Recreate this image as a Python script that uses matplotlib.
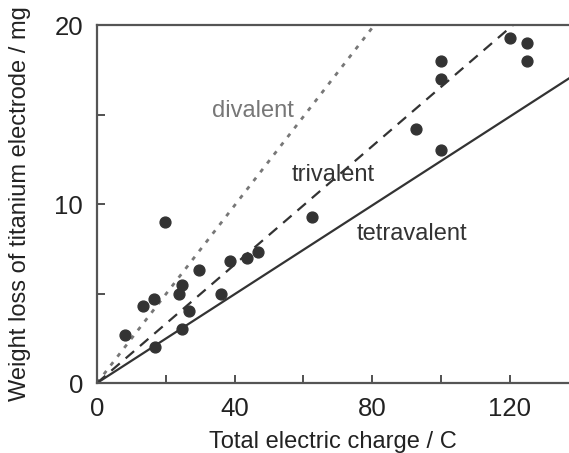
"""
Weight loss of titanium electrode vs total electric charge.
"""

import numpy as np
import matplotlib.pyplot as plt
from matplotlib.ticker import MultipleLocator

plt.rcParams["font.family"] = ["Liberation Sans", "DejaVu Sans"]

# measured points (C, mg)
charge = [8, 13.3, 16.7, 16.9, 19.7, 23.8, 24.8, 24.8, 26.6, 29.7, 36.0, 38.6,
          43.6, 46.7, 62.5, 92.6, 100, 100, 100, 120, 125, 125]
weight_loss = [2.7, 4.3, 4.7, 2.0, 9.0, 5.0, 5.5, 3.0, 4.0, 6.3, 5.0, 6.8,
               7.0, 7.3, 9.3, 14.2, 13.0, 17.0, 18.0, 19.3, 19.0, 18.0]

# Faraday's law: m = Q * M / (z F)
M_TI = 47.87
FARADAY = 96485
valences = [2, 3, 4]
valence_names = ["divalent", "trivalent", "tetravalent"]
label_pos = [(33.5, 15.2), (56.5, 11.6), (75.5, 8.3)]

dark = "#333333"
grey = "#777777"
styles = [
    dict(color=grey, linestyle=(0, (1.5, 2.5)), linewidth=2.0),
    dict(color=dark, linestyle=(0, (5, 3.5)), linewidth=1.6),
    dict(color=dark, linestyle="-", linewidth=1.6),
]
text_colors = [grey, dark, dark]

fig = plt.figure(figsize=(5.69, 4.53), dpi=100)
ax = fig.add_axes([0.1705, 0.1545, 0.8295, 0.7903])

q = np.linspace(0, 140, 200)
for z, name, pos, st, tc in zip(valences, valence_names, label_pos, styles, text_colors):
    ax.plot(q, q * M_TI / (z * FARADAY) * 1000, **st)
    ax.text(pos[0], pos[1], name, color=tc, fontsize=17, va="center", ha="left")

ax.plot(charge, weight_loss, "o", color=dark, markersize=7.8, clip_on=False)

ax.set_xlim(0, 137.2)
ax.set_ylim(0, 20)
ax.xaxis.set_major_locator(MultipleLocator(40))
ax.xaxis.set_minor_locator(MultipleLocator(20))
ax.yaxis.set_major_locator(MultipleLocator(10))
ax.yaxis.set_minor_locator(MultipleLocator(5))
ax.tick_params(which="both", direction="in", top=False, right=False,
               colors=dark, labelsize=18.5, width=1.2)
ax.tick_params(which="both", length=6)
ax.tick_params(axis="x", labelcolor="#222222", pad=10)
ax.tick_params(axis="y", labelcolor="#222222", pad=10)
ax.spines["right"].set_visible(False)
for s in ["left", "bottom", "top"]:
    ax.spines[s].set_color("#555555")
    ax.spines[s].set_linewidth(1.6)

ax.set_xlabel("Total electric charge / C", fontsize=17, color="#222222", labelpad=7)
ax.set_ylabel("Weight loss of titanium electrode / mg", fontsize=17,
              color="#222222", labelpad=17)

fig.savefig("out.png", dpi=100)
